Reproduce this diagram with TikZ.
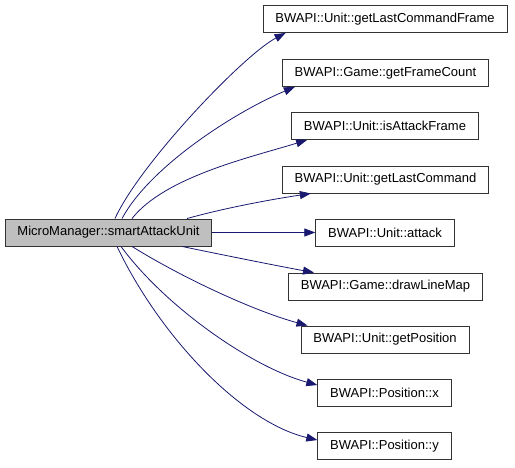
\documentclass[tikz,border=0pt]{standalone}
\usepackage{fontspec}
\setmainfont{Liberation Sans}
\usepackage{tikz}
\usepackage{xcolor}
\usetikzlibrary{arrows.meta,positioning,calc}
\definecolor{edgeblue}{HTML}{191970}
\definecolor{boxline}{HTML}{333333}
\definecolor{rootgray}{HTML}{BFBFBF}
\tikzset{
  fnbox/.style={draw=boxline,fill=white,line width=0.9pt,
                minimum height=27pt,inner xsep=12.4pt,inner ysep=0pt,
                font=\fontsize{13}{15}\selectfont},
  rootbox/.style={fnbox,fill=rootgray},
  callarr/.style={-{Triangle[length=11pt,width=8pt]},line width=0.8pt,
                  draw=edgeblue}
}
\begin{document}
\begin{tikzpicture}[x=1pt,y=1pt]
    \path[use as bounding box] (0,0) rectangle (515,467);

    \node[rootbox] (main) at (108.5,234.5) {MicroManager::smartAttackUnit};

    \node[fnbox] (frame)  at (385,448)   {BWAPI::Unit::getLastCommandFrame};
    \node[fnbox] (count)  at (385.5,394) {BWAPI::Game::getFrameCount};
    \node[fnbox] (isatk)  at (385,341)   {BWAPI::Unit::isAttackFrame};
    \node[fnbox] (lastcmd) at (385.5,287.5) {BWAPI::Unit::getLastCommand};
    \node[fnbox] (attack) at (385,234.5) {BWAPI::Unit::attack};
    \node[fnbox] (line)   at (385.5,180.5) {BWAPI::Game::drawLineMap};
    \node[fnbox] (getpos) at (385,127.5) {BWAPI::Unit::getPosition};
    \node[fnbox] (posx)   at (384.5,74)  {BWAPI::Position::x};
    \node[fnbox] (posy)   at (384.5,21)  {BWAPI::Position::y};

    % calls above the root
    \draw[callarr] ([xshift=6.5pt]main.north)
      .. controls +(25,55) and +(-42,-22) .. ([xshift=23pt]frame.south west);
    \draw[callarr] ([xshift=13.5pt]main.north)
      .. controls +(28,52) and +(-60,-25) .. ([xshift=13pt]count.south west);
    \draw[callarr] ([xshift=23.5pt]main.north)
      .. controls +(33,42) and +(-55,-17) .. ([xshift=16pt]isatk.south west);
    \draw[callarr] ([xshift=78.5pt]main.north)
      .. controls +(43,12) and +(-33,-5) .. ([xshift=29pt]lastcmd.south west);

    \draw[callarr] (main.east) -- (attack.west);

    % calls below the root
    \draw[callarr] ([xshift=73.5pt]main.south)
      .. controls +(48,-10) and +(-33,6) .. ([xshift=26pt]line.north west);
    \draw[callarr] ([xshift=23.5pt]main.south)
      .. controls +(48,-30) and +(-55,15) .. ([xshift=7pt]getpos.north west);
    \draw[callarr] ([xshift=12.5pt]main.south)
      .. controls +(44,-60) and +(-66,18) .. ([yshift=-6pt]posx.north west);
    \draw[callarr] ([xshift=8.5pt]main.south)
      .. controls +(43,-90) and +(-76,18) .. ([yshift=-8pt]posy.north west);
\end{tikzpicture}
\end{document}
